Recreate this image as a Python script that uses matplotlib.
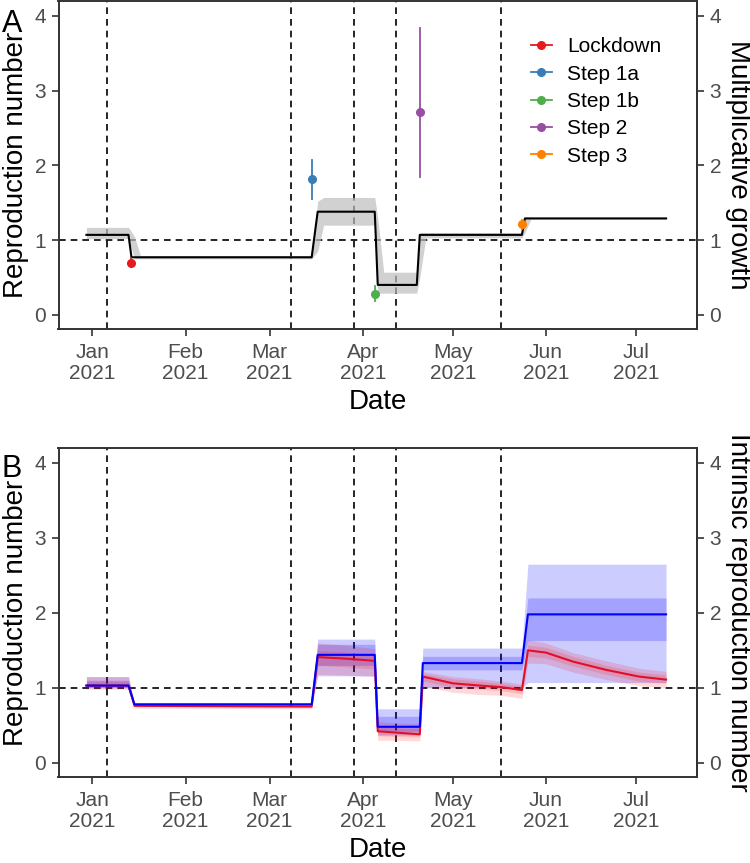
import matplotlib
matplotlib.use("Agg")
import matplotlib.pyplot as plt
import matplotlib.dates as mdates
import pandas as pd
from matplotlib.lines import Line2D

plt.rcParams['font.family'] = ['Liberation Sans', 'DejaVu Sans']

# ---- panel A: multiplicative growth (black line, grey band) ----
a_dates = ["2020-12-30", "2021-01-13", "2021-01-14", "2021-03-15", "2021-03-17",
           "2021-04-05", "2021-04-06", "2021-04-19", "2021-04-20", "2021-05-24",
           "2021-05-25", "2021-07-11"]
a_mid = [1.07, 1.07, 0.77, 0.77, 1.38, 1.38, 0.40, 0.40, 1.07, 1.07, 1.29, 1.29]

a_band_dates = ["2020-12-30", "2021-01-13", "2021-01-15", "2021-01-17", "2021-03-15",
                "2021-03-17", "2021-03-19", "2021-04-05", "2021-04-06", "2021-04-08",
                "2021-04-19", "2021-04-20", "2021-04-22", "2021-05-24", "2021-05-25",
                "2021-05-27", "2021-07-11"]
a_band_hi = [1.17, 1.17, 1.05, 0.79, 0.79, 1.52, 1.57, 1.57, 1.30, 0.57,
             0.57, 1.10, 1.10, 1.10, 1.30, 1.30, 1.30]
a_band_lo = [1.02, 1.02, 0.75, 0.75, 0.75, 0.85, 1.20, 1.20, 0.29, 0.29,
             0.29, 0.50, 1.03, 1.03, 1.10, 1.28, 1.28]

# step estimates with error bars
steps = ["Lockdown", "Step 1a", "Step 1b", "Step 2", "Step 3"]
step_dates = ["2021-01-14", "2021-03-15", "2021-04-05", "2021-04-20", "2021-05-24"]
step_val = [0.70, 1.82, 0.28, 2.71, 1.21]
step_lo = [0.65, 1.55, 0.18, 1.84, 1.15]
step_hi = [0.76, 2.07, 0.38, 3.84, 1.27]
step_cols = ["#E41A1C", "#377EB8", "#4DAF4A", "#984EA3", "#FF7F00"]

# intervention dates (vertical dashed lines)
vlines = ["2021-01-06", "2021-03-08", "2021-03-29", "2021-04-12", "2021-05-17"]

# ---- panel B: reproduction number (red) and intrinsic R (blue) ----
b_dates = ["2020-12-30", "2021-01-13", "2021-01-15", "2021-03-15", "2021-03-17",
           "2021-04-05", "2021-04-06", "2021-04-20", "2021-04-21", "2021-05-24",
           "2021-05-26", "2021-07-11"]
b_blue = [1.03, 1.03, 0.78, 0.78, 1.44, 1.44, 0.48, 0.48, 1.33, 1.33, 1.98, 1.98]
b_blue_lo95 = [1.00, 1.00, 0.76, 0.76, 1.16, 1.16, 0.37, 0.37, 1.00, 1.00, 1.07, 1.07]
b_blue_hi95 = [1.15, 1.15, 0.80, 0.80, 1.65, 1.65, 0.72, 0.72, 1.53, 1.53, 2.65, 2.65]
b_blue_lo50 = [1.01, 1.01, 0.77, 0.77, 1.30, 1.30, 0.42, 0.42, 1.24, 1.24, 1.63, 1.63]
b_blue_hi50 = [1.10, 1.10, 0.79, 0.79, 1.58, 1.58, 0.62, 0.62, 1.42, 1.42, 2.20, 2.20]

r_dates = ["2020-12-30", "2021-01-13", "2021-01-15", "2021-03-15", "2021-03-17",
           "2021-03-26", "2021-04-05", "2021-04-06", "2021-04-13", "2021-04-20",
           "2021-04-21", "2021-05-01", "2021-05-10", "2021-05-17", "2021-05-24",
           "2021-05-26", "2021-06-01", "2021-06-10", "2021-06-21", "2021-07-02",
           "2021-07-11"]
r_mid = [1.03, 1.03, 0.76, 0.75, 1.41, 1.39, 1.36, 0.42, 0.40, 0.38,
         1.15, 1.06, 1.03, 1.01, 0.97, 1.50, 1.47, 1.35, 1.24, 1.15, 1.11]
r_lo95 = [0.98, 0.98, 0.73, 0.72, 1.18, 1.17, 1.15, 0.30, 0.30, 0.29,
          1.02, 0.94, 0.91, 0.90, 0.86, 1.33, 1.32, 1.21, 1.11, 1.03, 1.00]
r_hi95 = [1.15, 1.15, 0.79, 0.78, 1.60, 1.57, 1.52, 0.55, 0.53, 0.52,
          1.22, 1.15, 1.12, 1.09, 1.05, 1.64, 1.60, 1.47, 1.36, 1.26, 1.22]
r_lo50 = [1.00, 1.00, 0.75, 0.74, 1.30, 1.28, 1.25, 0.36, 0.35, 0.34,
          1.09, 1.01, 0.98, 0.96, 0.92, 1.42, 1.40, 1.29, 1.18, 1.09, 1.06]
r_hi50 = [1.08, 1.08, 0.77, 0.76, 1.50, 1.48, 1.44, 0.48, 0.46, 0.45,
          1.19, 1.12, 1.09, 1.06, 1.02, 1.57, 1.54, 1.42, 1.30, 1.21, 1.17]

month_ticks = ["2021-01-01", "2021-02-01", "2021-03-01", "2021-04-01",
               "2021-05-01", "2021-06-01", "2021-07-01"]
y_ticks = [0, 1, 2, 3, 4]

D = pd.to_datetime
AXC = "#333333"
TXC = "#4D4D4D"
W, H = 750, 863


def style(ax, rlabel):
    jan1 = D("2021-01-01")
    ax.set_xlim(jan1 - pd.Timedelta(days=11.3), jan1 + pd.Timedelta(days=201.3))
    ax.set_ylim(-0.19, 4.2)
    ax.set_yticks(y_ticks)
    ax.set_xticks(D(month_ticks))
    ax.xaxis.set_major_formatter(mdates.DateFormatter("%b\n%Y"))
    for s in ax.spines.values():
        s.set_color(AXC)
        s.set_linewidth(1.4)
    ax.tick_params(axis="both", length=5, width=1.2, color=AXC, labelcolor=TXC,
                   labelsize=15, pad=4)
    ax.tick_params(axis="x", pad=5)
    for lab in ax.get_xticklabels():
        lab.set_linespacing(1.15)
    ax.set_xlabel("Date", fontsize=20, labelpad=4)
    ax.set_ylabel("Reproduction number", fontsize=20, labelpad=4)
    sec = ax.secondary_yaxis("right")
    sec.set_yticks(y_ticks)
    sec.spines["right"].set_color(AXC)
    sec.spines["right"].set_linewidth(1.4)
    sec.tick_params(length=5, width=1.2, color=AXC, labelcolor=TXC,
                    labelsize=15, pad=4)
    box = ax.get_position()
    fig.text(738 / W, (box.y0 + box.y1) / 2, rlabel, fontsize=20, rotation=270,
             ha="center", va="center")
    for v in vlines:
        ax.axvline(D(v), color="black", lw=1.2, ls=(0, (4, 3)), zorder=1)
    ax.axhline(1, color="black", lw=1.2, ls=(0, (4, 3)), zorder=1)


fig = plt.figure(figsize=(7.5, 8.63), dpi=100)
axA = fig.add_axes([58.5 / W, 1 - 329 / H, 638.5 / W, 328 / H])
axB = fig.add_axes([58.5 / W, 1 - 777 / H, 638.5 / W, 329 / H])

# panel A
style(axA, "Multiplicative growth")
axA.fill_between(D(a_band_dates), a_band_lo, a_band_hi, color="#BEBEBE",
                 alpha=0.7, lw=0, zorder=2)
axA.plot(D(a_dates), a_mid, color="black", lw=1.5, zorder=3)
handles = []
for i in range(len(steps)):
    d = D(step_dates[i])
    axA.plot([d, d], [step_lo[i], step_hi[i]], color=step_cols[i], lw=1.3, zorder=4)
    axA.plot([d], [step_val[i]], "o", color=step_cols[i], ms=5.5, zorder=5)
    handles.append(Line2D([], [], color=step_cols[i], lw=1.3, marker="o", ms=5.5))
axA.legend(handles, steps, loc="upper left", bbox_to_anchor=(0.727, 0.915),
           frameon=False, fontsize=15, handlelength=1.0, labelspacing=0.4,
           handletextpad=0.75, borderaxespad=0)

# panel B
style(axB, "Intrinsic reproduction number")
bd = D(b_dates)
rd = D(r_dates)
axB.fill_between(bd, b_blue_lo95, b_blue_hi95, color="blue", alpha=0.2, lw=0, zorder=2)
axB.fill_between(bd, b_blue_lo50, b_blue_hi50, color="blue", alpha=0.2, lw=0, zorder=2)
axB.fill_between(rd, r_lo95, r_hi95, color="red", alpha=0.15, lw=0, zorder=2)
axB.fill_between(rd, r_lo50, r_hi50, color="red", alpha=0.15, lw=0, zorder=2)
axB.plot(rd, r_mid, color="#E0102A", lw=1.5, zorder=3)
axB.plot(bd, b_blue, color="blue", lw=1.5, zorder=4)

fig.text(2 / W, 1 - 32 / H, "A", fontsize=22, color="black")
fig.text(2 / W, 1 - 477 / H, "B", fontsize=22, color="black")

fig.savefig("out.png", dpi=100)
